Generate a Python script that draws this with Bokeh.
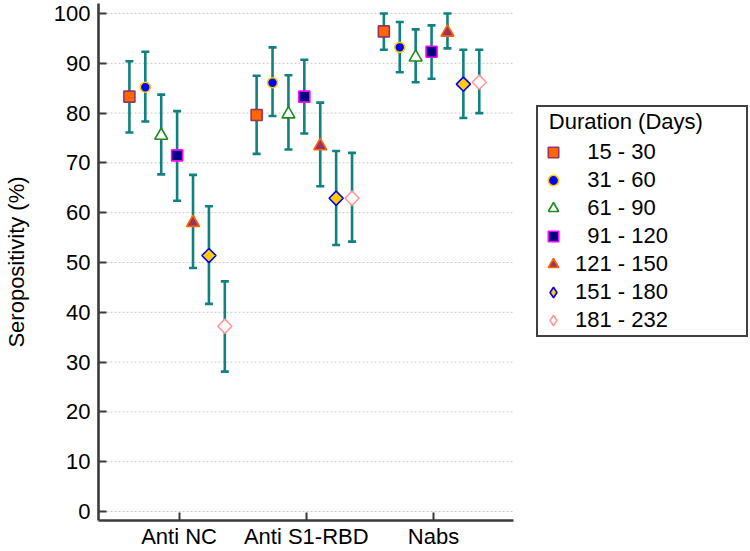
import math
from bokeh.plotting import figure
from bokeh.models import (ColumnDataSource, Range1d, FixedTicker, Whisker, TeeHead,
                          Legend, LegendItem)
from bokeh.embed import file_html
from bokeh.resources import INLINE

# ---------------- data ----------------
categories = ["Anti NC", "Anti S1-RBD", "Nabs"]
durations = ["15 - 30", "31 - 60", "61 - 90", "91 - 120", "121 - 150", "151 - 180", "181 - 232"]

anti_nc_mean = [83.3, 85.2, 75.5, 71.5, 58.0, 51.4, 37.2]
anti_nc_low = [76.1, 78.3, 67.7, 62.4, 48.9, 41.7, 28.1]
anti_nc_high = [90.4, 92.3, 83.7, 80.4, 67.6, 61.3, 46.2]

anti_s1_mean = [79.6, 86.1, 79.8, 83.3, 73.4, 62.9, 62.9]
anti_s1_low = [71.8, 79.4, 72.7, 75.9, 65.3, 53.5, 54.2]
anti_s1_high = [87.5, 93.2, 87.6, 90.7, 82.1, 72.4, 72.0]

nabs_mean = [96.4, 93.2, 91.2, 92.3, 96.2, 85.8, 86.2]
nabs_low = [92.7, 88.2, 86.2, 86.9, 93.0, 79.0, 80.0]
nabs_high = [100.0, 98.3, 96.8, 97.6, 100.0, 92.7, 92.7]

y_ticks = [0, 10, 20, 30, 40, 50, 60, 70, 80, 90, 100]

# ---------------- styling ----------------
FONT = "Liberation Sans"
FS = "22px"
AXIS_COLOR = "#3a3a3a"
BAR_COLOR = "#118080"

marker_styles = [
    dict(marker="square", size=11, angle=0.0, fill_color="#FF6600", line_color="#993366"),
    dict(marker="circle", size=10, angle=0.0, fill_color="#0000FF", line_color="#FFCC00"),
    dict(marker="triangle", size=13, angle=0.0, fill_color="#FFFFFF", line_color="#1f8a1f"),
    dict(marker="square", size=11, angle=0.0, fill_color="#000080", line_color="#FF00FF"),
    dict(marker="triangle", size=13, angle=0.0, fill_color="#993366", line_color="#FF6600"),
    dict(marker="diamond", size=10, angle=math.pi / 4, fill_color="#FFCC00", line_color="#0000FF"),
    dict(marker="diamond", size=10, angle=math.pi / 4, fill_color="#FFFFFF", line_color="#FF9999"),
]

means = [anti_nc_mean, anti_s1_mean, nabs_mean]
lows = [anti_nc_low, anti_s1_low, nabs_low]
highs = [anti_nc_high, anti_s1_high, nabs_high]

step = 0.125
shift = -0.015
X_LO, X_HI = -0.633, 2.633          # extent of the x axis
FIG_W, FIG_H = 750, 551
LEFT, TOP, BOTTOM = 94, 3, 28
PX_PER_UNIT = 128.0
x_end = X_LO + (FIG_W - LEFT) / PX_PER_UNIT   # frame also hosts the legend area

p = figure(width=FIG_W, height=FIG_H, output_backend="svg", toolbar_location=None,
           x_range=Range1d(X_LO, x_end), y_range=Range1d(-1.80, 102.0),
           min_border_left=LEFT, min_border_right=0, min_border_top=TOP, min_border_bottom=BOTTOM)
p.outline_line_color = None
p.background_fill_color = "white"
p.border_fill_color = "white"

# horizontal dotted grid lines, limited to the axis extent
p.xgrid.visible = False
p.ygrid.visible = False
p.segment(x0=[X_LO] * len(y_ticks), x1=[X_HI] * len(y_ticks), y0=y_ticks, y1=y_ticks,
          line_color="#c8c8c8", line_dash="2 2", line_width=1, level="underlay")

# error bars (all series)
wx, wlo, whi = [], [], []
for j in range(len(durations)):
    for i in range(len(categories)):
        wx.append(i + (j - 3) * step + shift)
        wlo.append(lows[i][j])
        whi.append(highs[i][j])
wsrc = ColumnDataSource(dict(x=wx, lo=wlo, hi=whi))
whisk = Whisker(source=wsrc, base="x", lower="lo", upper="hi", dimension="height",
                line_color=BAR_COLOR, line_width=2.6,
                upper_head=TeeHead(size=8, line_color=BAR_COLOR, line_width=2.6),
                lower_head=TeeHead(size=8, line_color=BAR_COLOR, line_width=2.6))
p.add_layout(whisk)

items = []
for j, dur in enumerate(durations):
    st = marker_styles[j]
    xs = [i + (j - 3) * step + shift for i in range(len(categories))]
    ys = [means[i][j] for i in range(len(categories))]
    src = ColumnDataSource(dict(x=xs, y=ys))
    if st["marker"] == "diamond":
        # legend glyph (Bokeh draws legend markers unrotated), hidden under the plot mark
        leg_r = p.scatter("x", "y", source=src, marker="diamond", size=12,
                          fill_color=st["fill_color"], line_color=st["line_color"], line_width=1.6)
        r = p.scatter("x", "y", source=src, marker="square", size=st["size"], angle=st["angle"],
                      fill_color=st["fill_color"], line_color=st["line_color"], line_width=1.6)
    else:
        r = p.scatter("x", "y", source=src, marker=st["marker"], size=st["size"],
                      fill_color=st["fill_color"], line_color=st["line_color"], line_width=1.6)
        leg_r = r
    label = dur if len(dur.split(" ")[0]) == 3 else "\u2007" + dur
    items.append(LegendItem(label=label, renderers=[leg_r]))

# axes
p.yaxis.ticker = FixedTicker(ticks=y_ticks)
p.yaxis.axis_label = "Seropositivity (%)"
p.yaxis.axis_label_text_font = FONT
p.yaxis.axis_label_text_font_size = FS
p.yaxis.axis_label_text_font_style = "normal"
p.yaxis.axis_label_text_color = "black"
p.yaxis.axis_label_standoff = 22
p.yaxis.major_label_standoff = 8

p.xaxis.ticker = FixedTicker(ticks=[0, 1, 2])
p.xaxis.major_label_overrides = {0: categories[0], 1: categories[1], 2: categories[2]}
p.xaxis.major_label_standoff = 3
p.xaxis.bounds = (X_LO, X_HI)

for ax in (p.xaxis, p.yaxis):
    ax.major_label_text_font = FONT
    ax.major_label_text_font_size = FS
    ax.major_label_text_color = "black"
    ax.axis_line_color = AXIS_COLOR
    ax.axis_line_width = 2.6
    ax.major_tick_line_color = AXIS_COLOR
    ax.major_tick_line_width = 2
    ax.major_tick_in = 8
    ax.major_tick_out = 0
    ax.minor_tick_line_color = None

legend = Legend(items=items, location=(438, 183),
                title="\u2009\u2009Duration (Days)\u2007\u2007\u2007\u2009",
                title_text_font=FONT, title_text_font_size=FS, title_text_font_style="normal",
                title_text_color="black", title_standoff=4,
                label_text_font=FONT, label_text_font_size=FS, label_text_color="black",
                border_line_color="#404040", border_line_width=2, border_line_alpha=1.0,
                background_fill_color="white", background_fill_alpha=1.0,
                padding=2, spacing=2, margin=0,
                glyph_width=26, glyph_height=26, label_height=24, label_standoff=9)
p.add_layout(legend, "center")

open("out.html", "w").write(file_html(p, INLINE))
